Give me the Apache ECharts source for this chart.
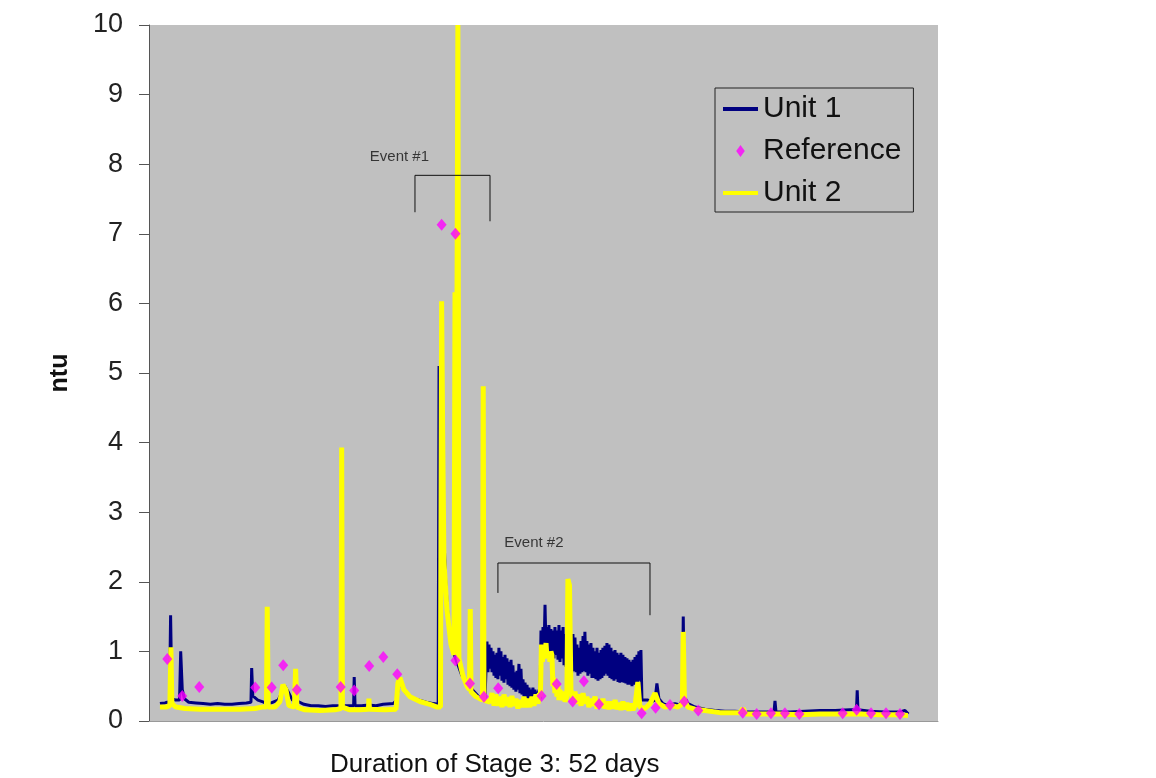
<!DOCTYPE html>
<html lang="en">
<head>
  <meta charset="UTF-8">
  <title>Stage 3 turbidity</title>
  <script src="https://cdn.jsdelivr.net/npm/echarts@6/dist/echarts.min.js"></script>
  <style>
    html, body { margin: 0; padding: 0; background: #fff; }
    #chart { width: 1156px; height: 778px; }
  </style>
</head>
<body>
  <div id="chart"></div>
  <script>
    // [day, ntu] pairs
    const unit1 = [
      [0.00,0.25],[0.35,0.26],[0.66,0.28],[0.74,1.52],[0.83,0.32],[1.1,0.3],[1.36,0.3],[1.44,1.0],[1.55,0.45],
      [1.7,0.32],[2.0,0.27],[2.5,0.26],[3.0,0.25],[3.5,0.24],[4.0,0.25],[4.5,0.24],[5.0,0.24],[5.5,0.25],
      [6.0,0.26],[6.32,0.27],[6.37,0.76],[6.45,0.36],[6.8,0.30],[7.2,0.27],[7.6,0.25],[8.2,0.3],[8.68,0.5],
      [8.9,0.42],[9.2,0.3],[9.6,0.28],[10.0,0.24],[10.5,0.22],[11.0,0.22],[11.5,0.21],[12.0,0.22],[12.5,0.22],
      [13.0,0.22],[13.45,0.22],[13.49,0.63],[13.55,0.22],[14.0,0.22],[14.5,0.23],[15.0,0.22],[15.5,0.24],
      [16.2,0.25],[16.45,0.3],[16.6,0.6],[16.8,0.5],[17.1,0.4],[17.5,0.33],[18.0,0.3],[18.5,0.27],[19.0,0.25],
      [19.32,0.24],[19.38,5.1],[19.63,3.43],[19.74,2.54],[19.84,2.01],[20.02,1.45],[20.37,0.99],[20.95,0.66],
      [21.65,0.46],[22.22,0.33],[22.57,0.3],
      // event 2 band
      [22.64,0.30],[22.71,1.14],[22.78,0.70],[22.85,1.10],[22.92,0.75],[22.99,1.05],[23.06,0.70],[23.13,1.00],
      [23.20,0.65],[23.27,0.95],[23.33,0.62],[23.40,0.98],[23.47,0.60],[23.54,1.05],[23.61,0.65],[23.68,1.00],
      [23.75,0.58],[23.82,0.92],[23.89,0.55],[23.96,0.95],[24.03,0.60],[24.10,0.90],[24.17,0.52],[24.24,0.85],
      [24.31,0.50],[24.38,0.88],[24.44,0.48],[24.51,0.80],[24.58,0.45],[24.65,0.70],[24.72,0.42],[24.79,0.72],
      [24.86,0.45],[24.93,0.82],[25.00,0.40],[25.07,0.75],[25.14,0.38],[25.21,0.60],[25.28,0.35],[25.35,0.55],
      [25.42,0.33],[25.49,0.52],[25.56,0.32],[25.63,0.48],[25.69,0.30],[25.76,0.45],[25.83,0.32],[25.90,0.48],
      [25.97,0.30],[26.04,0.45],[26.11,0.32],[26.18,0.42],[26.25,0.30],[26.32,0.45],[26.39,0.32],[26.46,1.30],
      [26.53,0.95],[26.60,1.35],[26.67,1.00],[26.74,1.67],[26.81,1.05],[26.88,1.35],[26.95,0.95],[27.01,1.38],
      [27.08,1.00],[27.15,1.32],[27.22,0.92],[27.29,1.30],[27.36,0.90],[27.43,1.35],[27.50,0.95],[27.57,1.30],
      [27.64,0.88],[27.71,1.38],[27.78,0.85],[27.85,1.30],[27.92,0.90],[27.99,1.35],[28.06,0.80],[28.13,1.25],
      [28.20,0.78],[28.27,1.30],[28.33,0.80],[28.40,1.20],[28.47,0.75],[28.54,1.15],[28.61,0.70],[28.68,1.25],
      [28.75,0.72],[28.82,1.20],[28.89,0.70],[28.96,1.10],[29.03,0.65],[29.10,1.05],[29.17,0.68],[29.24,1.15],
      [29.31,0.70],[29.38,1.22],[29.44,0.72],[29.51,1.28],[29.58,0.70],[29.65,1.15],[29.72,0.65],[29.79,1.10],
      [29.86,0.68],[29.93,1.12],[30.00,0.62],[30.07,1.05],[30.14,0.62],[30.21,1.00],[30.28,0.60],[30.35,1.05],
      [30.42,0.58],[30.49,0.98],[30.56,0.60],[30.63,1.02],[30.69,0.62],[30.76,1.05],[30.83,0.65],[30.90,1.08],
      [30.97,0.68],[31.04,1.12],[31.11,0.65],[31.18,1.10],[31.25,0.62],[31.32,1.05],[31.39,0.60],[31.46,1.00],
      [31.53,0.58],[31.60,1.02],[31.67,0.60],[31.74,0.98],[31.81,0.56],[31.88,0.95],[31.94,0.55],[32.01,0.98],
      [32.08,0.56],[32.15,0.95],[32.22,0.55],[32.29,0.92],[32.36,0.54],[32.43,0.90],[32.50,0.52],[32.57,0.88],
      [32.64,0.52],[32.71,0.85],[32.78,0.50],[32.85,0.88],[32.92,0.52],[32.99,0.92],[33.06,0.55],[33.13,0.95],
      [33.19,0.55],[33.26,1.00],[33.33,0.58],[33.40,1.02],[33.47,0.30],
      [33.89,0.3],[34.17,0.28],[34.38,0.3],[34.51,0.54],[34.65,0.32],[34.93,0.25],[35.28,0.22],
      [35.76,0.25],[36.11,0.23],[36.28,0.3],[36.34,1.5],[36.42,0.35],[36.67,0.25],[37.15,0.2],[37.85,0.17],
      [38.54,0.15],[39.24,0.14],[39.93,0.14],[40.63,0.13],[41.67,0.13],[42.64,0.13],[42.71,0.29],[42.78,0.13],
      [43.75,0.13],[44.79,0.14],[45.83,0.15],[46.88,0.15],[47.92,0.16],[48.37,0.16],[48.42,0.44],[48.47,0.16],
      [49.31,0.14],[50.35,0.13],[51.39,0.13],[51.74,0.15],[51.97,0.1]
    ];

    const unit2 = [
      [0.00,0.2],[0.42,0.2],[0.69,0.22],[0.76,1.06],[0.83,0.25],[1.11,0.2],[1.74,0.18],[2.78,0.17],[4.17,0.17],
      [5.56,0.17],[6.6,0.18],[7.08,0.2],[7.4,0.2],[7.45,1.64],[7.52,0.2],[7.99,0.2],[8.33,0.28],[8.54,0.52],
      [8.75,0.45],[8.96,0.22],[9.34,0.2],[9.42,0.75],[9.51,0.2],[10.07,0.16],[11.11,0.15],[12.15,0.16],
      [12.57,0.18],[12.62,3.93],[12.67,0.2],[13.19,0.16],[13.89,0.16],[14.48,0.17],[14.51,0.32],[14.55,0.17],
      [15.63,0.16],[16.39,0.17],[16.53,0.55],[16.67,0.62],[16.94,0.45],[17.36,0.35],[18.06,0.28],[18.75,0.24],
      [19.24,0.2],[19.48,0.2],[19.56,6.03],[19.63,4.2],[19.72,2.3],[19.93,1.6],[20.21,1.1],[20.42,0.95],
      [20.49,6.16],[20.56,1.2],[20.63,6.1],[20.69,10],[20.76,0.9],[21.04,0.65],[21.32,0.5],[21.49,0.45],
      [21.55,1.61],[21.6,0.42],[21.94,0.35],[22.4,0.3],[22.45,4.81],[22.5,0.3],
      // event 2 band
      [22.92,0.27],[23.06,0.40],[23.20,0.22],[23.33,0.38],[23.47,0.22],[23.61,0.35],[23.75,0.20],[23.89,0.38],
      [24.03,0.22],[24.17,0.34],[24.31,0.20],[24.44,0.36],[24.58,0.22],[24.72,0.32],[24.86,0.18],[25.00,0.30],
      [25.14,0.20],[25.28,0.35],[25.42,0.20],[25.56,0.32],[25.69,0.20],[25.83,0.35],[25.97,0.22],[26.11,0.38],
      [26.25,0.25],[26.35,0.40],[26.42,0.35],[26.49,1.10],[26.56,0.85],[26.63,1.05],[26.70,0.90],[26.81,1.12],
      [26.88,0.90],[27.01,1.00],[27.08,0.85],[27.15,1.00],[27.22,0.95],[27.29,0.50],[27.36,0.62],[27.43,0.40],
      [27.50,0.55],[27.57,0.35],[27.64,0.50],[27.71,0.30],[27.78,0.45],[27.85,0.30],[27.99,0.42],[28.13,0.28],
      [28.26,0.35],[28.33,2.04],[28.44,1.95],[28.54,0.45],[28.68,0.30],[28.82,0.42],[28.96,0.25],[29.10,0.38],
      [29.24,0.22],[29.38,0.40],[29.51,0.25],[29.65,0.35],[29.79,0.20],[29.93,0.32],[30.07,0.22],[30.21,0.35],
      [30.35,0.18],[30.49,0.30],[30.63,0.20],[30.76,0.32],[30.90,0.18],[31.04,0.28],[31.18,0.17],[31.32,0.28],
      [31.46,0.18],[31.60,0.30],[31.74,0.17],[31.88,0.26],[32.01,0.16],[32.15,0.28],[32.29,0.17],[32.43,0.26],
      [32.57,0.15],[32.71,0.25],[32.85,0.16],[32.99,0.22],[33.19,0.56],[33.33,0.20],
      [33.68,0.18],[34.03,0.25],[34.38,0.4],[34.65,0.25],[35.07,0.2],[35.56,0.22],[35.97,0.2],[36.28,0.25],
      [36.34,1.28],[36.42,0.3],[36.67,0.2],[37.15,0.17],[37.85,0.15],[38.89,0.12],[40.28,0.12],[40.49,0.18],
      [40.69,0.1],[41.67,0.1],[43.06,0.1],[44.44,0.09],[45.83,0.1],[47.22,0.1],[48.61,0.1],[50.0,0.09],
      [51.39,0.09],[51.94,0.08]
    ];

    const reference = [
      [0.51,0.89],[1.55,0.36],[2.73,0.49],[6.62,0.48],[7.76,0.48],[8.56,0.80],[9.51,0.45],[12.55,0.49],
      [13.49,0.44],[14.53,0.79],[15.51,0.92],[16.48,0.67],[19.56,7.13],[20.52,7.0],[20.52,0.87],[21.53,0.54],
      [22.5,0.35],[23.49,0.47],[26.5,0.36],[27.55,0.53],[28.66,0.28],[29.44,0.57],[30.49,0.24],[33.45,0.11],
      [34.42,0.19],[35.42,0.23],[36.41,0.28],[37.38,0.15],[40.47,0.12],[41.44,0.10],[42.43,0.11],[43.4,0.11],
      [44.4,0.10],[47.41,0.11],[48.38,0.16],[49.38,0.11],[50.42,0.11],[51.39,0.10]
    ];

    // event brackets and their labels, in data units
    const event1Bracket = [[17.71,7.31],[17.71,7.84],[22.92,7.84],[22.92,7.18]];
    const event2Bracket = [[23.47,1.84],[23.47,2.27],[34.03,2.27],[34.03,1.52]];
    const eventLabels = [[16.63,8.10,'Event #1'],[25.97,2.56,'Event #2']];

    const font = "'Liberation Sans', Arial, sans-serif";
    const chart = echarts.init(document.getElementById('chart'), null, { renderer: 'canvas' });

    const bracketStyle = {
      type: 'line', symbol: 'none', silent: true, z: 6,
      lineStyle: { color: '#111', width: 1 }
    };
    const lineIcon = 'path://M0,0H35V4H0Z';

    chart.setOption({
      animation: false,
      backgroundColor: '#fff',
      title: {
        text: 'Duration of Stage 3: 52 days',
        left: 325, top: 747,
        textStyle: { fontFamily: font, fontSize: 26, fontWeight: 'normal', color: '#111' }
      },
      grid: {
        left: 149, top: 25, right: 218, bottom: 57,
        show: true, backgroundColor: '#c0c0c0', borderWidth: 0
      },
      legend: {
        data: [
          { name: 'Unit 1', icon: lineIcon },
          { name: 'Reference', icon: 'path://M5,0L10,7L5,14L0,7Z' },
          { name: 'Unit 2', icon: lineIcon }
        ],
        orient: 'vertical',
        left: 715, top: 88,
        padding: [6, 12, 4, 8],
        itemWidth: 35, itemHeight: 12, itemGap: 12, itemTextGap: 8,
        backgroundColor: '#c0c0c0',
        borderColor: '#222', borderWidth: 1,
        textStyle: { fontFamily: font, fontSize: 30, color: '#111', lineHeight: 30 }
      },
      xAxis: {
        type: 'value', min: -0.76, max: 54.03,
        axisLine: { show: true, lineStyle: { color: '#999', width: 1 } },
        axisTick: { show: false },
        axisLabel: { show: false },
        splitLine: { show: false }
      },
      yAxis: {
        type: 'value', min: 0, max: 10, interval: 1,
        name: 'ntu', nameLocation: 'middle', nameGap: 76, nameRotate: 90,
        nameTextStyle: { fontFamily: font, fontSize: 25, fontWeight: 'bold', color: '#111' },
        axisLine: { show: true, onZero: false, lineStyle: { color: '#555', width: 1 } },
        axisTick: { show: true, length: 10, lineStyle: { color: '#555' } },
        axisLabel: { fontFamily: font, fontSize: 27, color: '#222', margin: 26 },
        splitLine: { show: false }
      },
      series: [
        {
          name: 'Unit 1', type: 'line', data: unit1, symbol: 'none', z: 2,
          lineStyle: { color: '#000080', width: 3 }, itemStyle: { color: '#000080' }
        },
        {
          name: 'Reference', type: 'scatter', data: reference, z: 5,
          symbol: 'diamond', symbolSize: [10, 12],
          itemStyle: { color: '#ff00ff' }
        },
        {
          name: 'Unit 2', type: 'line', data: unit2, symbol: 'none', z: 3,
          lineStyle: { color: '#ffff00', width: 5 }, itemStyle: { color: '#ffff00' }
        },
        Object.assign({ name: 'event1', data: event1Bracket }, bracketStyle),
        Object.assign({ name: 'event2', data: event2Bracket }, bracketStyle),
        {
          name: 'events', type: 'scatter', data: eventLabels, symbolSize: 0, silent: true, z: 6,
          label: {
            show: true, position: 'inside',
            formatter: p => p.value[2],
            fontFamily: font, fontSize: 15, color: '#111'
          }
        }
      ]
    });
  </script>
</body>
</html>
